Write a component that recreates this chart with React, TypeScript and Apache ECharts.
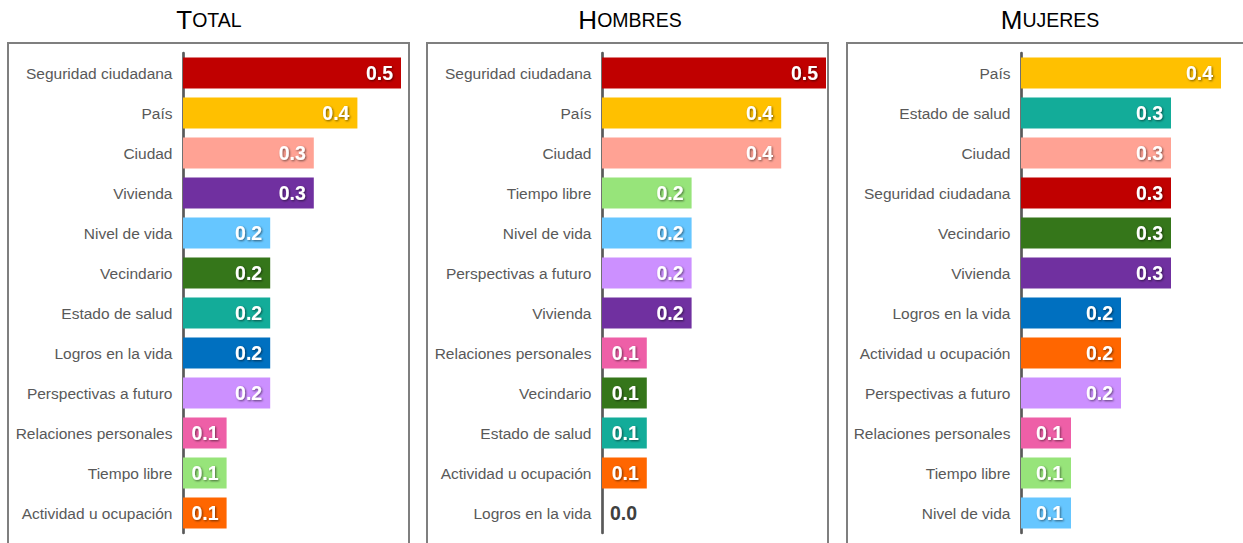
import React, { useEffect, useRef } from "react";
import * as echarts from "echarts";

const totalCategories = [
  "Seguridad ciudadana", "País", "Ciudad", "Vivienda", "Nivel de vida", "Vecindario",
  "Estado de salud", "Logros en la vida", "Perspectivas a futuro", "Relaciones personales",
  "Tiempo libre", "Actividad u ocupación",
];
const totalValues = [0.5, 0.4, 0.3, 0.3, 0.2, 0.2, 0.2, 0.2, 0.2, 0.1, 0.1, 0.1];

const hombresCategories = [
  "Seguridad ciudadana", "País", "Ciudad", "Tiempo libre", "Nivel de vida", "Perspectivas a futuro",
  "Vivienda", "Relaciones personales", "Vecindario", "Estado de salud", "Actividad u ocupación",
  "Logros en la vida",
];
const hombresValues = [0.5, 0.4, 0.4, 0.2, 0.2, 0.2, 0.2, 0.1, 0.1, 0.1, 0.1, 0.0];

const mujeresCategories = [
  "País", "Estado de salud", "Ciudad", "Seguridad ciudadana", "Vecindario", "Vivienda",
  "Logros en la vida", "Actividad u ocupación", "Perspectivas a futuro", "Relaciones personales",
  "Tiempo libre", "Nivel de vida",
];
const mujeresValues = [0.4, 0.3, 0.3, 0.3, 0.3, 0.3, 0.2, 0.2, 0.2, 0.1, 0.1, 0.1];

const panelTitles = [
  ["T", "OTAL"],
  ["H", "OMBRES"],
  ["M", "UJERES"],
];

const categoryColors: Record<string, string> = {
  "Seguridad ciudadana": "#C00000",
  "País": "#FFC000",
  "Ciudad": "#FFA294",
  "Vivienda": "#7030A0",
  "Nivel de vida": "#66C6FF",
  "Vecindario": "#35761A",
  "Estado de salud": "#13AC99",
  "Logros en la vida": "#0070C0",
  "Perspectivas a futuro": "#CC90FF",
  "Relaciones personales": "#EE5FA7",
  "Tiempo libre": "#97E47A",
  "Actividad u ocupación": "#FF6600",
};

const FONT = "Arial";

export default function App() {
  const ref = useRef<HTMLDivElement>(null);
  useEffect(() => {
    if (!ref.current) return;
    const chart = echarts.init(ref.current, undefined, { renderer: "svg" });

    const panels = [
      { cats: totalCategories, vals: totalValues, axisX: 183, max: 0.5, width: 218, boxX: 8, titleX: 209 },
      { cats: hombresCategories, vals: hombresValues, axisX: 602, max: 0.5, width: 224, boxX: 427, titleX: 630 },
      { cats: mujeresCategories, vals: mujeresValues, axisX: 1021, max: 0.4, width: 200, boxX: 847, titleX: 1050 },
    ];

    const grid = panels.map((p) => ({ left: p.axisX, top: 53, width: p.width, height: 480 }));
    const xAxis = panels.map((p, i) => ({
      type: "value",
      gridIndex: i,
      min: 0,
      max: p.max,
      show: false,
    }));
    const yAxis = panels.map((p, i) => ({
      type: "category",
      gridIndex: i,
      data: p.cats,
      inverse: true,
      offset: 1.5,
      axisLine: { show: true, lineStyle: { color: "#595959", width: 2.7 } },
      axisTick: { show: false },
      axisLabel: { color: "#595959", fontSize: 15.5, fontFamily: FONT, margin: 9 },
      splitLine: { show: false },
    }));
    const series = panels.map((p, i) => ({
      type: "bar",
      xAxisIndex: i,
      yAxisIndex: i,
      barWidth: 31,
      data: p.vals.map((v, j) => {
        const item: any = {
          value: v,
          itemStyle: { color: categoryColors[p.cats[j]] },
        };
        if (v === 0) {
          item.label = {
            position: "right",
            distance: 8,
            color: "#404040",
            textShadowColor: "transparent",
            textShadowBlur: 0,
            textShadowOffsetX: 0,
            textShadowOffsetY: 0,
          };
        }
        return item;
      }),
      label: {
        show: true,
        position: "insideRight",
        distance: 8,
        formatter: (d: any) => Number(d.value).toFixed(1),
        color: "#ffffff",
        fontWeight: "bold",
        fontSize: 19.5,
        fontFamily: FONT,
        textShadowColor: "rgba(0,0,0,0.55)",
        textShadowBlur: 2,
        textShadowOffsetX: 1,
        textShadowOffsetY: 1,
      },
    }));

    const graphic: any[] = [];
    panels.forEach((p, i) => {
      graphic.push({
        type: "rect",
        shape: { x: p.boxX, y: 43, width: 401, height: 520 },
        style: { fill: "none", stroke: "#7F7F7F", lineWidth: 2 },
        z: -1,
      });
      graphic.push({
        type: "text",
        x: p.titleX,
        y: 33,
        style: {
          text: `{b|${panelTitles[i][0]}}{s|${panelTitles[i][1]}}`,
          align: "center",
          verticalAlign: "bottom",
          rich: {
            b: { fontSize: 26, fontFamily: FONT, fill: "#000000" },
            s: { fontSize: 19.5, fontFamily: FONT, fill: "#000000" },
          },
        },
      });
    });

    chart.setOption({
      animation: false,
      grid,
      xAxis,
      yAxis,
      series,
      graphic,
    });
    return () => chart.dispose();
  }, []);
  return (
    <div
      ref={ref}
      style={{ position: "fixed", left: 0, top: 0, width: 1243, height: 543, background: "#ffffff" }}
    />
  );
}
